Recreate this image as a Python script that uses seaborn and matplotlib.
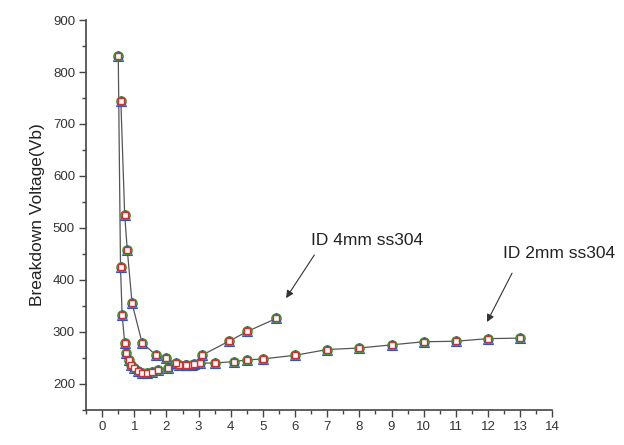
import matplotlib
matplotlib.use("Agg")
import matplotlib.pyplot as plt
import seaborn as sns
import pandas as pd
from matplotlib.ticker import MultipleLocator

# ---- data ----
x_2mm = [0.50, 0.57, 0.62, 0.70, 0.75, 0.82, 0.90, 0.98, 1.10, 1.25, 1.40, 1.55, 1.75, 2.05,
         2.40, 2.60, 2.80, 3.05, 3.50, 4.10, 4.50, 5.00, 6.00, 7.00, 8.00, 9.00, 10.00,
         11.00, 12.00, 13.00]
y_2mm = [830, 425, 333, 279, 260, 246, 236, 230, 224, 221, 220, 222, 226, 231,
         236, 236, 237, 240, 240, 243, 246, 248, 255, 266, 269, 275, 281,
         282, 287, 288]

x_4mm = [0.58, 0.70, 0.78, 0.93, 1.24, 1.66, 1.97, 2.30, 2.60, 2.85, 3.10, 3.94, 4.52, 5.42]
y_4mm = [745, 525, 458, 355, 279, 256, 249, 240, 237, 238, 255, 282, 301, 326]

label_4mm = "ID 4mm ss304"
label_2mm = "ID 2mm ss304"
y_label = "Breakdown Voltage(Vb)"
x_ticks = list(range(0, 15))
y_ticks = [200, 300, 400, 500, 600, 700, 800, 900]

df2 = pd.DataFrame({"x": x_2mm, "y": y_2mm})
df4 = pd.DataFrame({"x": x_4mm, "y": y_4mm})

sns.set_theme(style="white")
plt.rcParams['font.family'] = ['Liberation Sans', 'DejaVu Sans']

fig = plt.figure(figsize=(6.24, 4.45), dpi=100)
ax = fig.add_axes([0.138, 0.079, 0.747, 0.876])

for d in (df2, df4):
    sns.lineplot(data=d, x="x", y="y", ax=ax, sort=False, estimator=None,
                 color="#555555", linewidth=0.9, zorder=1)
    # overlapping measurement runs drawn with different markers
    ax.plot(d["x"], d["y"], linestyle="none", marker="o", markersize=6.5,
            markerfacecolor="none", markeredgecolor="#2ca02c", markeredgewidth=1.2, zorder=2)
    ax.plot(d["x"], d["y"], linestyle="none", marker="^", markersize=6.5,
            markerfacecolor="none", markeredgecolor="#3050d0", markeredgewidth=0.8, zorder=3)
    ax.plot(d["x"], d["y"], linestyle="none", marker="s", markersize=5,
            markerfacecolor="white", markeredgecolor="#d03030", markeredgewidth=1.0, zorder=4)

ax.set_xlim(-0.5, 14)
ax.set_ylim(150, 900)
ax.set_xticks(x_ticks)
ax.set_yticks(y_ticks)
ax.xaxis.set_minor_locator(MultipleLocator(0.5))
ax.yaxis.set_minor_locator(MultipleLocator(50))
ax.tick_params(which="major", direction="out", length=5, width=1, color="#444444",
               labelsize=9.5, labelcolor="#333333", bottom=True, left=True, pad=3)
ax.tick_params(which="minor", direction="out", length=3, width=1, color="#444444",
               bottom=True, left=True)

for s in ("top", "right"):
    ax.spines[s].set_visible(False)
for s in ("left", "bottom"):
    ax.spines[s].set_color("#444444")
    ax.spines[s].set_linewidth(1.2)

ax.set_xlabel("")
ax.set_ylabel(y_label, fontsize=12.5, color="#222222", labelpad=6)

ax.text(8.25, 475, label_4mm, ha="center", va="center", fontsize=12.5, color="#222222")
ax.text(14.2, 450, label_2mm, ha="center", va="center", fontsize=12.5, color="#222222",
        clip_on=False)
arrow = dict(arrowstyle="-|>", color="#333333", lw=0.8, shrinkA=0, shrinkB=0,
             mutation_scale=11)
ax.annotate("", xy=(5.72, 365), xytext=(6.6, 448), arrowprops=arrow)
ax.annotate("", xy=(11.97, 319), xytext=(12.75, 413), arrowprops=arrow,
            annotation_clip=False)

fig.savefig("out.png", dpi=100)
